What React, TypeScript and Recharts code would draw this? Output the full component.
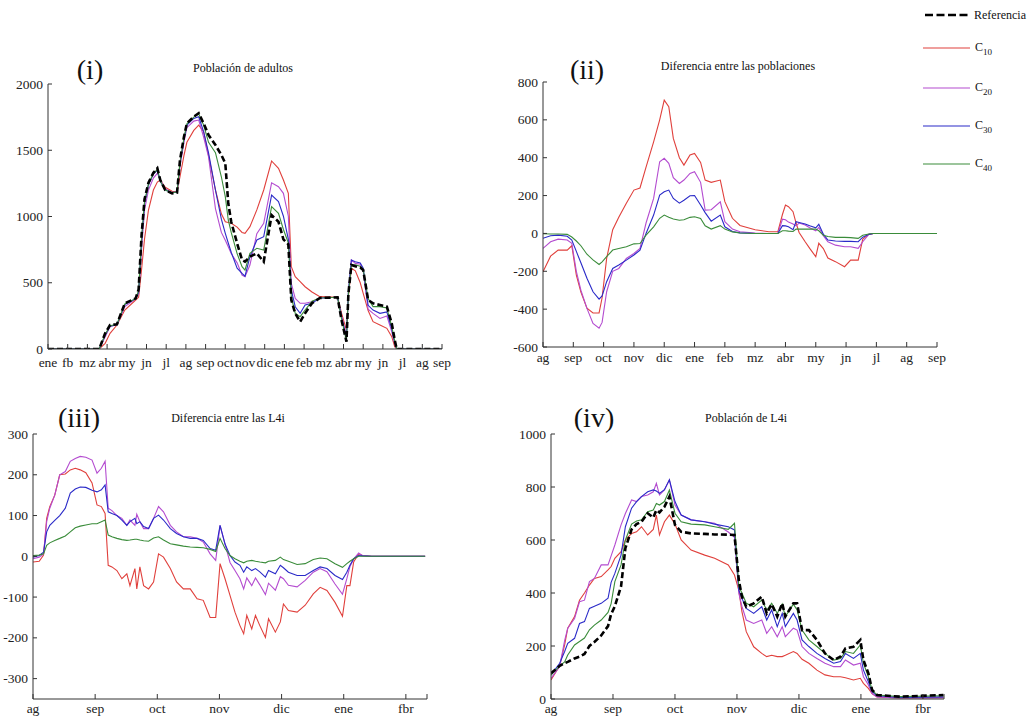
import React from "react";
import { LineChart, Line, XAxis, YAxis } from "recharts";

// x values are months from the first tick of each panel

// (i) Población de adultos
const adultMonths = ["ene", "fb", "mz", "abr", "my", "jn", "jl", "ag", "sep", "oct", "nov", "dic", "ene", "feb", "mz", "abr", "my", "jn", "jl", "ag", "sep"];
const adultT = [0, 2.6, 2.9, 3.15, 3.5, 3.9, 4.45, 4.6, 4.75, 4.9, 5.1, 5.35, 5.55, 5.7, 5.95, 6.3, 6.55, 6.7, 6.9, 7.05, 7.4, 7.65, 7.9, 8.15, 8.5, 8.8, 9.0, 9.15, 9.3, 9.6, 9.85, 10.0, 10.25, 10.6, 10.95, 11.35, 11.7, 11.95, 12.2, 12.35, 12.55, 12.8, 13.05, 13.4, 13.8, 14.7, 14.9, 15.15, 15.25, 15.4, 15.6, 15.85, 16.0, 16.25, 16.5, 16.85, 17.2, 17.45, 17.6, 17.7, 20];
const adultRef = [0, 0, 118, 181, 187, 345, 382, 450, 860, 1130, 1255, 1330, 1364, 1275, 1200, 1175, 1180, 1426, 1600, 1703, 1753, 1779, 1703, 1615, 1540, 1464, 1402, 1100, 960, 797, 672, 659, 697, 722, 659, 1010, 960, 827, 790, 370, 269, 206, 269, 345, 385, 390, 219, 55, 420, 634, 625, 615, 596, 370, 345, 332, 320, 193, 68, 0, 0];
const adultC10 = [0, 0, 43, 118, 181, 294, 370, 390, 600, 830, 1049, 1200, 1260, 1275, 1220, 1190, 1187, 1300, 1460, 1560, 1650, 1690, 1640, 1460, 1200, 1020, 961, 955, 949, 920, 880, 873, 923, 1050, 1200, 1419, 1364, 1275, 1175, 621, 546, 508, 470, 430, 395, 390, 270, 143, 400, 609, 590, 500, 420, 290, 206, 181, 156, 93, 18, 0, 0];
const adultC20 = [0, 0, 90, 170, 183, 320, 378, 420, 750, 1050, 1200, 1290, 1326, 1280, 1210, 1180, 1185, 1380, 1560, 1670, 1720, 1728, 1600, 1450, 1060, 880, 820, 772, 720, 650, 558, 546, 634, 870, 948, 1254, 1225, 1175, 1002, 496, 382, 345, 345, 357, 385, 390, 250, 100, 430, 672, 646, 640, 590, 300, 269, 231, 250, 130, 40, 0, 0];
const adultC30 = [0, 0, 105, 172, 185, 335, 380, 430, 820, 1100, 1240, 1320, 1350, 1265, 1200, 1180, 1185, 1400, 1580, 1690, 1740, 1753, 1640, 1480, 1200, 980, 873, 800, 730, 610, 570, 550, 697, 823, 848, 1162, 1112, 1002, 827, 445, 319, 269, 332, 345, 385, 390, 240, 80, 430, 672, 659, 650, 610, 330, 294, 269, 280, 150, 50, 0, 0];
const adultC40 = [0, 0, 110, 175, 187, 340, 380, 440, 840, 1110, 1245, 1325, 1355, 1270, 1200, 1180, 1185, 1410, 1590, 1700, 1750, 1775, 1690, 1560, 1482, 1300, 1150, 974, 880, 720, 621, 596, 722, 760, 747, 1074, 1024, 902, 801, 395, 269, 244, 294, 360, 385, 390, 230, 60, 420, 634, 635, 625, 600, 380, 320, 320, 310, 170, 60, 0, 0];

// (ii) Diferencia entre las poblaciones
const diffMonths = ["ag", "sep", "oct", "nov", "dic", "ene", "feb", "mz", "abr", "my", "jn", "jl", "ag", "sep"];
const diffT = [0, 0.25, 0.5, 0.8, 0.95, 1.1, 1.25, 1.45, 1.65, 1.85, 1.95, 2.1, 2.3, 2.5, 2.75, 3.0, 3.2, 3.4, 3.65, 3.85, 4.0, 4.15, 4.3, 4.5, 4.65, 4.85, 5.0, 5.2, 5.35, 5.55, 5.85, 6.0, 6.25, 6.5, 7.0, 7.45, 7.75, 7.9, 8.0, 8.1, 8.25, 8.35, 8.45, 8.65, 8.8, 9.0, 9.1, 9.25, 9.4, 9.65, 9.95, 10.15, 10.4, 10.55, 10.75, 10.9, 13];
const diffC10 = [-202, -120, -88, -88, -65, -220, -310, -395, -420, -420, -340, -132, 20, 85, 160, 229, 240, 350, 484, 600, 704, 670, 502, 400, 361, 414, 423, 375, 282, 270, 282, 168, 80, 42, 19, 9, 9, 100, 150, 141, 115, 55, 5, -44, -79, -123, -52, -80, -130, -149, -176, -141, -141, -30, -5, 0, 0];
const diffC20 = [-79, -44, -30, -35, -52, -200, -300, -396, -475, -501, -470, -308, -200, -185, -132, -106, -79, 55, 185, 379, 397, 370, 295, 264, 282, 317, 326, 270, 123, 125, 167, 62, 23, 9, 2, 0, 0, 75, 72, 60, 50, 40, 55, 45, 30, 14, 32, -12, -44, -62, -70, -70, -79, -44, -5, 0, 0];
const diffC30 = [-26, -12, -9, -15, -35, -95, -155, -237, -308, -347, -330, -255, -185, -167, -141, -114, -88, 0, 97, 203, 220, 229, 185, 160, 175, 199, 200, 150, 110, 65, 97, 35, 10, 3, 0, 0, 0, 41, 40, 35, 20, 62, 58, 50, 40, 30, 48, -4, -35, -40, -42, -42, -44, -20, -5, 0, 0];
const diffC40 = [-2, -3, -3, -5, -19, -40, -65, -110, -140, -164, -150, -123, -88, -80, -70, -55, -53, -9, 35, 80, 97, 85, 76, 70, 72, 85, 88, 79, 40, 23, 41, 23, 8, 2, 0, 0, 0, 14, 14, 12, 10, 23, 23, 23, 23, 23, 14, -10, -16, -21, -21, -22, -26, -10, -3, 0, 0];

// (iii) Diferencia entre las L4i
const l4Months = ["ag", "sep", "oct", "nov", "dic", "ene", "fbr", ""];
const l4Ticks = [0, 1, 2, 3, 4, 5, 6, 6.34];
const l4dT = [0, 0.1, 0.17, 0.22, 0.27, 0.35, 0.43, 0.52, 0.6, 0.68, 0.76, 0.85, 0.95, 1.03, 1.1, 1.16, 1.21, 1.27, 1.35, 1.43, 1.51, 1.56, 1.64, 1.67, 1.72, 1.78, 1.86, 1.94, 2.02, 2.1, 2.21, 2.31, 2.42, 2.53, 2.64, 2.74, 2.85, 2.94, 3.01, 3.09, 3.17, 3.25, 3.33, 3.39, 3.44, 3.52, 3.58, 3.65, 3.74, 3.79, 3.9, 3.98, 4.03, 4.11, 4.25, 4.38, 4.51, 4.62, 4.73, 4.86, 4.98, 5.05, 5.1, 5.16, 5.24, 5.3, 5.45, 6.31];
const l4dC10 = [-14, -12, 3, 93, 122, 150, 200, 202, 212, 216, 212, 205, 180, 126, 122, 105, -22, -26, -35, -55, -43, -72, -30, -80, -26, -72, -80, -63, 6, -2, -30, -63, -80, -80, -104, -108, -150, -150, -18, -55, -96, -137, -170, -190, -145, -178, -145, -170, -199, -153, -186, -161, -117, -133, -137, -120, -92, -76, -84, -113, -147, -72, -72, -14, 6, 2, 0, 0];
const l4dC20 = [-6, -2, 6, 85, 118, 150, 200, 208, 233, 240, 245, 243, 236, 204, 216, 233, 118, 112, 100, 93, 76, 89, 76, 103, 85, 68, 68, 93, 122, 109, 76, 60, 48, 48, 44, 35, 6, -10, 76, 30, -15, -35, -55, -80, -53, -72, -53, -70, -94, -66, -83, -50, -55, -71, -75, -59, -39, -30, -38, -68, -93, -55, -25, -7, 8, 2, 0, 0];
const l4dC30 = [-2, 2, 10, 60, 76, 88, 100, 118, 155, 165, 170, 169, 162, 158, 163, 175, 109, 105, 100, 89, 76, 85, 93, 80, 85, 73, 68, 93, 101, 89, 68, 56, 48, 44, 44, 39, 19, 15, 76, 30, 2, -14, -22, -39, -26, -35, -30, -38, -51, -35, -43, -22, -28, -39, -47, -47, -35, -26, -30, -47, -57, -39, -22, -6, 2, 1, 0, 0];
const l4dC40 = [2, 3, 6, 27, 33, 39, 44, 50, 60, 70, 74, 77, 80, 80, 85, 89, 52, 48, 44, 41, 39, 40, 42, 42, 40, 38, 37, 45, 48, 40, 31, 28, 25, 23, 22, 21, 17, 12, 44, 19, 2, -6, -12, -16, -12, -10, -12, -14, -16, -12, -10, -2, -8, -12, -20, -18, -8, -4, -6, -18, -27, -18, -12, -6, 0, 0, 0, 0];

// (iv) Población de L4i
const l4T = [0, 0.14, 0.22, 0.27, 0.38, 0.46, 0.54, 0.62, 0.7, 0.81, 0.92, 0.97, 1.03, 1.13, 1.2, 1.3, 1.38, 1.46, 1.56, 1.65, 1.7, 1.75, 1.83, 1.91, 2.0, 2.1, 2.26, 2.48, 2.64, 2.86, 2.96, 3.03, 3.08, 3.15, 3.27, 3.4, 3.48, 3.56, 3.65, 3.73, 3.78, 3.91, 3.97, 4.05, 4.16, 4.29, 4.42, 4.56, 4.67, 4.75, 4.88, 4.99, 5.04, 5.12, 5.18, 5.26, 5.63, 6.33];
const l4Ref = [97, 125, 135, 140, 153, 160, 170, 200, 215, 240, 275, 320, 350, 425, 569, 640, 660, 669, 701, 685, 713, 704, 725, 764, 657, 631, 625, 623, 621, 620, 619, 449, 386, 348, 361, 386, 323, 358, 311, 361, 311, 361, 361, 260, 260, 223, 172, 147, 160, 191, 197, 223, 147, 97, 34, 15, 9, 15];
const l4C10 = [72, 125, 204, 267, 311, 373, 400, 430, 455, 462, 487, 500, 531, 556, 600, 625, 631, 650, 619, 640, 694, 619, 669, 694, 660, 600, 562, 543, 531, 506, 468, 411, 330, 254, 197, 172, 160, 165, 160, 160, 165, 179, 172, 150, 135, 109, 91, 84, 84, 80, 72, 78, 59, 40, 20, 8, 4, 5];
const l4C20 = [78, 123, 220, 267, 304, 367, 373, 443, 455, 506, 506, 540, 581, 657, 700, 751, 745, 764, 770, 782, 814, 770, 789, 827, 732, 694, 676, 669, 663, 630, 610, 399, 350, 298, 285, 298, 248, 273, 235, 273, 235, 267, 260, 198, 172, 153, 135, 122, 122, 147, 128, 135, 84, 53, 20, 8, 4, 5];
const l4C30 = [91, 135, 179, 210, 229, 285, 292, 342, 350, 361, 380, 440, 474, 543, 650, 720, 745, 764, 782, 789, 785, 776, 790, 827, 745, 694, 676, 669, 660, 650, 638, 411, 380, 342, 323, 348, 298, 336, 273, 323, 273, 323, 298, 223, 198, 172, 153, 135, 141, 172, 153, 172, 109, 65, 28, 12, 6, 8];
const l4C40 = [90, 125, 140, 166, 204, 217, 230, 261, 279, 298, 327, 360, 443, 506, 600, 660, 672, 676, 707, 713, 738, 732, 745, 789, 701, 669, 660, 657, 650, 640, 663, 424, 400, 361, 348, 373, 336, 361, 323, 358, 311, 358, 336, 260, 223, 198, 172, 147, 153, 179, 172, 204, 135, 84, 34, 15, 9, 12];

const FONT = "'Liberation Serif', 'Times New Roman', serif";
const AXIS = "#333";
const COLORS = { ref: "#000", c10: "#e0403c", c20: "#b44cd0", c30: "#2a2ac8", c40: "#3a8c3a" };

const table = (t: number[], cols: Record<string, number[]>) =>
  t.map((v, i) => {
    const row: Record<string, number> = { t: v };
    Object.keys(cols).forEach((k) => (row[k] = cols[k][i]));
    return row;
  });

const range = (a: number, b: number, s: number) => {
  const out: number[] = [];
  for (let v = a; v <= b + 1e-9; v += s) out.push(v);
  return out;
};

type PanelProps = {
  box: [number, number, number, number];
  data: Record<string, number>[];
  xDomain: [number, number];
  xTicks: number[];
  xLabels: string[];
  labelDy: number;
  yDomain: [number, number];
  yTicks: number[];
  keys: string[];
};

function Panel({ box, data, xDomain, xTicks, xLabels, labelDy, yDomain, yTicks, keys }: PanelProps) {
  const [x0, y0, x1, y1] = box;
  const xTick = (p: any) => {
    const i = xTicks.findIndex((v) => Math.abs(v - p.payload.value) < 1e-6);
    return (
      <g>
        <line x1={p.x} x2={p.x} y1={p.y} y2={p.y - 5} stroke={AXIS} />
        <text x={p.x} y={p.y + labelDy} textAnchor="middle" fontSize={13.5} fontFamily={FONT} fill="#222">
          {xLabels[i] ?? ""}
        </text>
      </g>
    );
  };
  const yTick = (p: any) => (
    <g>
      <line x1={p.x} x2={p.x + 4} y1={p.y} y2={p.y} stroke={AXIS} />
      <text x={p.x - 5} y={p.y + 4.5} textAnchor="end" fontSize={13.5} fontFamily={FONT} fill="#222">
        {p.payload.value}
      </text>
    </g>
  );
  return (
    <div style={{ position: "absolute", left: x0 - 50, top: y0 - 10 }}>
      <LineChart width={x1 - x0 + 60} height={y1 - y0 + 40} data={data} margin={{ top: 10, right: 10, bottom: 0, left: 0 }}>
        <XAxis dataKey="t" type="number" domain={xDomain} ticks={xTicks} interval={0} height={30} tickSize={0} tickMargin={0} stroke={AXIS} tick={xTick} allowDataOverflow />
        <YAxis type="number" domain={yDomain} ticks={yTicks} interval={0} width={50} tickSize={0} tickMargin={0} stroke={AXIS} tick={yTick} allowDataOverflow />
        {keys.map((k) => (
          <Line
            key={k}
            dataKey={k}
            type="linear"
            stroke={COLORS[k as keyof typeof COLORS]}
            strokeWidth={k === "ref" ? 2.6 : 1.1}
            strokeDasharray={k === "ref" ? "6 3" : undefined}
            dot={false}
            isAnimationActive={false}
          />
        ))}
      </LineChart>
    </div>
  );
}

const legendItems = [
  { key: "c10", sub: "10", y: 48 },
  { key: "c20", sub: "20", y: 88 },
  { key: "c30", sub: "30", y: 126 },
  { key: "c40", sub: "40", y: 164 },
];

export default function App() {
  const seriesKeys = ["c10", "c20", "c30", "c40", "ref"];
  const diffKeys = ["c10", "c20", "c30", "c40"];
  return (
    <div style={{ position: "fixed", left: 0, top: 0, width: 1032, height: 720, background: "#fff", overflow: "hidden" }}>
      <Panel
        box={[48, 84, 442, 349]}
        data={table(adultT, { ref: adultRef, c10: adultC10, c20: adultC20, c30: adultC30, c40: adultC40 })}
        xDomain={[0, 20]}
        xTicks={range(0, 20, 1)}
        xLabels={adultMonths}
        labelDy={18}
        yDomain={[0, 2000]}
        yTicks={range(0, 2000, 500)}
        keys={seriesKeys}
      />
      <Panel
        box={[543, 82, 937, 347]}
        data={table(diffT, { c10: diffC10, c20: diffC20, c30: diffC30, c40: diffC40 })}
        xDomain={[0, 13]}
        xTicks={range(0, 13, 1)}
        xLabels={diffMonths}
        labelDy={15}
        yDomain={[-600, 800]}
        yTicks={range(-600, 800, 200)}
        keys={diffKeys}
      />
      <Panel
        box={[33, 434, 427, 699]}
        data={table(l4dT, { c10: l4dC10, c20: l4dC20, c30: l4dC30, c40: l4dC40 })}
        xDomain={[0, 6.34]}
        xTicks={l4Ticks}
        xLabels={l4Months}
        labelDy={14}
        yDomain={[-350, 300]}
        yTicks={range(-300, 300, 100)}
        keys={diffKeys}
      />
      <Panel
        box={[551, 434, 944, 699]}
        data={table(l4T, { ref: l4Ref, c10: l4C10, c20: l4C20, c30: l4C30, c40: l4C40 })}
        xDomain={[0, 6.34]}
        xTicks={l4Ticks}
        xLabels={l4Months}
        labelDy={14}
        yDomain={[0, 1000]}
        yTicks={range(0, 1000, 200)}
        keys={seriesKeys}
      />
      <svg width={1032} height={720} style={{ position: "absolute", left: 0, top: 0, pointerEvents: "none" }} fontFamily={FONT} fill="#111">
        <text x={90} y={79} fontSize={28} textAnchor="middle">(i)</text>
        <text x={587} y={79} fontSize={28} textAnchor="middle">(ii)</text>
        <text x={79} y={427} fontSize={28} textAnchor="middle">(iii)</text>
        <text x={594} y={427} fontSize={28} textAnchor="middle">(iv)</text>
        <text x={243} y={72} fontSize={12} textAnchor="middle">Población de adultos</text>
        <text x={738} y={70} fontSize={12} textAnchor="middle">Diferencia entre las poblaciones</text>
        <text x={228} y={422} fontSize={12} textAnchor="middle">Diferencia entre las L4i</text>
        <text x={746} y={422} fontSize={12} textAnchor="middle">Población de L4i</text>
        <line x1={925} x2={969} y1={15} y2={15} stroke="#000" strokeWidth={2.5} strokeDasharray="8 3.5" />
        <text x={974} y={19} fontSize={12}>Referencia</text>
        {legendItems.map((it) => (
          <g key={it.key}>
            <line x1={923} x2={970} y1={it.y} y2={it.y} stroke={COLORS[it.key as keyof typeof COLORS]} strokeWidth={1.2} />
            <text x={975} y={it.y + 3} fontSize={12}>
              C<tspan fontSize={9} dy={4}>{it.sub}</tspan>
            </text>
          </g>
        ))}
      </svg>
    </div>
  );
}
